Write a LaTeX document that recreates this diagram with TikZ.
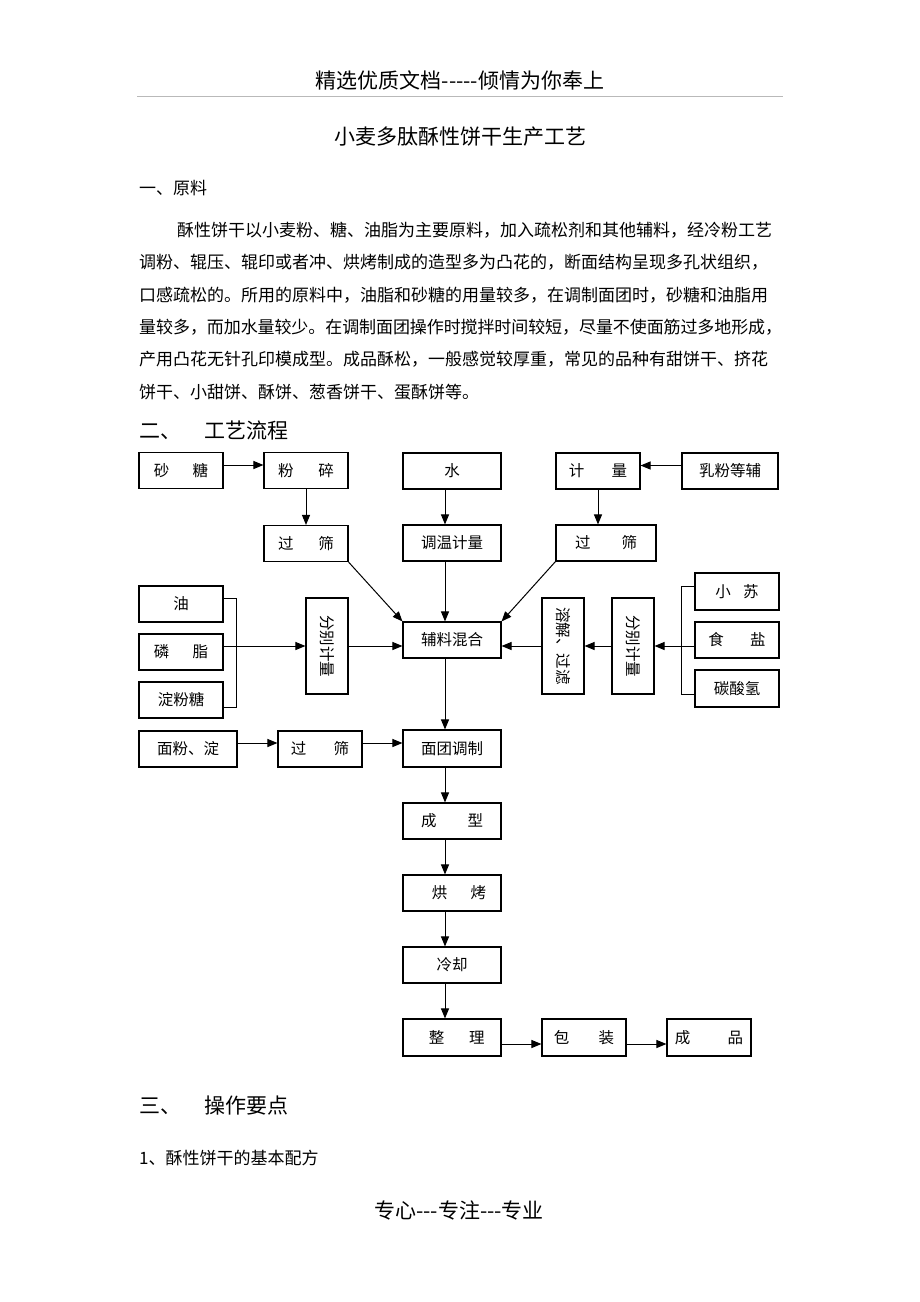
\documentclass[tikz,border=0pt]{standalone}
\usepackage{fontspec}
\setmainfont{Noto Sans CJK SC}
\usepackage{graphicx}
\usetikzlibrary{arrows.meta, positioning}
\XeTeXlinebreaklocale "zh"
\XeTeXlinebreakskip=0pt plus 1pt minus 0.5pt
\newcommand{\jline}[1]{\parfillskip=0pt\relax #1}
\newcommand{\hy}{\mbox{-}}

\begin{document}
\begin{tikzpicture}[x=1pt, y=-1pt,
  box/.style={draw=black, line width=1.1pt, inner sep=0pt, minimum width=84pt, minimum height=36pt, font=\fontsize{15.5}{16}\selectfont},
  vbox/.style={box, minimum width=42pt, minimum height=96pt},
  txt/.style={inner sep=0pt, anchor=west, font=\fontsize{17}{18}\selectfont},
  para/.style={txt, text width=643pt, align=justify},
  head/.style={inner sep=0pt, font=\fontsize{21}{22}\selectfont},
  arr/.style={draw=black, line width=1pt, -{Triangle[length=10pt, width=8pt]}},
  brk/.style={draw=black, line width=1pt},
]
\useasboundingbox[fill=white] (0,0) rectangle (920,1302);

% page text
\node[head] (hdr) at (460,80) {精选优质文档\hy\hy\hy\hy\hy 倾情为你奉上};
\draw[gray!55, line width=1pt] (137,96) -- (783,96);
\node[head] (title) at (460,137) {小麦多肽酥性饼干生产工艺};
\node[txt] (sec1) at (139,188) {一、原料};
\node[para, text width=605pt] (p1) at (177,230) {\jline{酥性饼干以小麦粉、糖、油脂为主要原料，加入疏松剂和其他辅料，经冷粉工艺}};
\node[para] (p2) at (139,262.4) {\jline{调粉、辊压、辊印或者冲、烘烤制成的造型多为凸花的，断面结构呈现多孔状组织，}};
\node[para] (p3) at (139,294.8) {\jline{口感疏松的。所用的原料中，油脂和砂糖的用量较多，在调制面团时，砂糖和油脂用}};
\node[para] (p4) at (139,327.2) {\jline{量较多，而加水量较少。在调制面团操作时搅拌时间较短，尽量不使面筋过多地形成，}};
\node[para] (p5) at (139,359.6) {\jline{产用凸花无针孔印模成型。成品酥松，一般感觉较厚重，常见的品种有甜饼干、挤花}};
\node[txt] (p6) at (139,392) {饼干、小甜饼、酥饼、葱香饼干、蛋酥饼等。};
\node[head, anchor=west] (sec2) at (139,430) {二、\hspace{1.1em}工艺流程};

% top rows
\node[box] (sugar) at (181,470.5) {砂\hspace{1.5em}糖};
\node[box] (crush) at (306,470.5) {粉\hspace{1.6em}碎};
\node[box, minimum width=98pt] (water) at (452,471) {水};
\node[box] (meas) at (598,471) {计\hspace{1.75em}量};
\node[box, minimum width=96pt] (milk) at (730,471) {乳粉等辅};
\node[box] (sieveL) at (306,543.5) {过\hspace{1.6em}筛};
\node[box, minimum width=98pt] (temp) at (452,543) {调温计量};
\node[box, minimum width=100pt] (sieveR) at (606,543) {过\hspace{2em}筛};

% mixing row
\node[box] (oil) at (181,604) {油};
\node[box] (lecith) at (181,652) {磷\hspace{1.5em}脂};
\node[box] (starch) at (181,700) {淀粉糖};
\node[vbox] (sepL) at (327,646) {\rotatebox{-90}{分别计量}};
\node[box, minimum width=98pt] (mix) at (452,640) {辅料混合};
\node[vbox] (dissolve) at (563,646) {\rotatebox{-90}{溶解、过滤}};
\node[vbox] (sepR) at (633,646) {\rotatebox{-90}{分别计量}};
\node[box, minimum height=37pt] (soda) at (737,591.5) {小\hspace{0.8em}苏};
\node[box] (salt) at (737,640) {食\hspace{1.7em}盐};
\node[box, minimum height=37pt] (bicarb) at (737,688.5) {碳酸氢};

% main line
\node[box, minimum width=98pt] (flour) at (188,749) {面粉、淀};
\node[box] (sieveF) at (320,749) {过\hspace{1.75em}筛};
\node[box, minimum width=98pt, minimum height=37pt] (dough) at (452,748.5) {面团调制};
\node[box, minimum width=98pt] (shape) at (452,821) {成\hspace{2em}型};
\node[box, minimum width=98pt] (bake) at (452,893) {\hspace{0.9em}烘\hspace{1.5em}烤};
\node[box, minimum width=98pt] (cool) at (452,965) {冷却};
\node[box, minimum width=98pt, minimum height=37pt] (tidy) at (452,1037.5) {\hspace{0.6em}整\hspace{1.6em}理};
\node[box, minimum height=37pt] (pack) at (584,1037.5) {包\hspace{1.9em}装};
\node[box, minimum height=37pt] (prod) at (709,1037.5) {成\hspace{2.4em}品};

\node[head, anchor=west] (sec3) at (139,1106) {三、\hspace{1.1em}操作要点};
\node[txt] (sub1) at (139,1158) {1、酥性饼干的基本配方};
\node[head] (foot) at (459,1210) {专心\hy\hy\hy 专注\hy\hy\hy 专业};

% connectors
\draw[arr] ([yshift=5.5pt]sugar.east) -- ([yshift=5.5pt]crush.west);
\draw[arr] ([yshift=5.5pt]milk.west) -- ([yshift=5.5pt]meas.east);
\draw[arr] (crush) -- (sieveL);
\draw[arr] (meas.south) -- (meas.south |- sieveR.north);
\draw[arr] ([xshift=-7pt]water.south) -- ([xshift=-7pt]temp.north);
\draw[arr] ([xshift=-7pt]temp.south) -- ([xshift=-7pt]mix.north);
\draw[arr] (sieveL.south east) -- (mix.north west);
\draw[arr] (sieveR.south west) -- (mix.north east);

\draw[brk] ([yshift=6pt]oil.east) -| ([xshift=13pt,yshift=-7pt]starch.east) -- ([yshift=-7pt]starch.east);
\draw[arr] ([yshift=6pt]lecith.east) -- (sepL.west);
\draw[arr] (sepL.east) -- ([yshift=-6pt]mix.west);
\draw[brk] ([yshift=5.5pt]soda.west) -| ([xshift=-13pt,yshift=-5.5pt]bicarb.west) -- ([yshift=-5.5pt]bicarb.west);
\draw[arr] ([yshift=-6pt]salt.west) -- (sepR.east);
\draw[arr] (sepR.west) -- (dissolve.east);
\draw[arr] (dissolve.west) -- ([yshift=-6pt]mix.east);

\draw[arr] ([yshift=6pt]flour.east) -- ([yshift=6pt]sieveF.west);
\draw[arr] ([yshift=6pt]sieveF.east) -- ([yshift=5.5pt]dough.west);
\foreach \a/\b in {mix/dough, dough/shape, shape/bake, bake/cool, cool/tidy}
  \draw[arr] ([xshift=-7pt]\a.south) -- ([xshift=-7pt]\b.north);
\draw[arr] ([yshift=-6.5pt]tidy.east) -- ([yshift=-6.5pt]pack.west);
\draw[arr] ([yshift=-6.5pt]pack.east) -- ([yshift=-6.5pt]prod.west);
\end{tikzpicture}
\end{document}
